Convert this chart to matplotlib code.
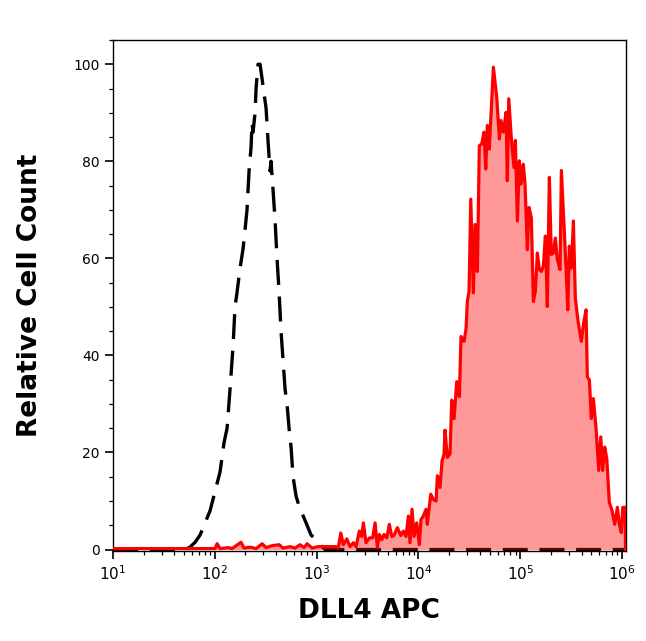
import matplotlib

matplotlib.use("Agg")
import matplotlib.pyplot as plt
import numpy as np
from matplotlib.ticker import LogLocator, MultipleLocator

# values; x given in decades (log10 of intensity)
isotype_decade = [
    1.0, 1.707, 1.756, 1.806, 1.855, 1.904, 1.953, 2.002, 2.051, 2.090,
    2.120, 2.149, 2.179, 2.198, 2.218, 2.248, 2.277, 2.297, 2.316, 2.336,
    2.356, 2.365, 2.375, 2.395, 2.405, 2.424, 2.444, 2.464, 2.483, 2.503,
    2.523, 2.542, 2.552, 2.572, 2.591, 2.611, 2.631, 2.650, 2.670, 2.690,
    2.709, 2.729, 2.749, 2.768, 2.798, 2.827, 2.866, 2.906, 2.945, 2.994,
    3.033, 3.083, 6.04,
]
isotype_count = [
    0, 0, 0.5, 1.5, 3, 5.5, 8, 12, 16, 22,
    25, 33, 42, 50, 53, 58, 62, 66, 70, 78,
    83, 88, 86, 90, 95, 100, 100, 97, 94, 91,
    84, 78, 80, 74, 68, 60, 53, 45, 39, 33,
    30, 25, 21, 15, 11, 9, 7, 5, 3, 2,
    1, 0, 0,
]

dll4_decade = [
    1.0, 2.002, 2.022, 2.051, 2.130, 2.169, 2.257, 2.287, 2.346, 2.405,
    2.464, 2.503, 2.562, 2.631, 2.670, 2.739, 2.788, 2.837, 2.876, 2.906,
    2.955, 3.014, 3.033, 3.181, 3.213, 3.237, 3.262, 3.296, 3.328, 3.361,
    3.387, 3.419, 3.443, 3.459, 3.485, 3.518, 3.551, 3.574, 3.596, 3.616,
    3.639, 3.662, 3.689, 3.714, 3.738, 3.760, 3.793, 3.826, 3.852, 3.878,
    3.901, 3.917, 3.937, 3.957, 3.983, 4.009, 4.025, 4.048, 4.075, 4.087,
    4.121, 4.146, 4.173, 4.186, 4.212, 4.232, 4.251, 4.261, 4.284, 4.310,
    4.327, 4.350, 4.376, 4.402, 4.418, 4.448, 4.468, 4.480, 4.497, 4.514,
    4.539, 4.556, 4.579, 4.598, 4.622, 4.644, 4.661, 4.677, 4.696, 4.736,
    4.769, 4.795, 4.811, 4.834, 4.861, 4.873, 4.887, 4.916, 4.939, 4.952,
    4.972, 4.991, 5.008, 5.030, 5.047, 5.070, 5.086, 5.109, 5.129, 5.148,
    5.168, 5.188, 5.207, 5.227, 5.247, 5.266, 5.286, 5.305, 5.325, 5.345,
    5.364, 5.391, 5.404, 5.430, 5.450, 5.467, 5.482, 5.502, 5.522, 5.541,
    5.568, 5.600, 5.620, 5.646, 5.659, 5.679, 5.698, 5.718, 5.745, 5.771,
    5.791, 5.810, 5.830, 5.850, 5.875, 5.902, 5.928, 5.954, 5.973, 5.993,
    6.007, 6.030, 6.034,
]
dll4_count = [
    0.2, 0.2, 1.2, 0.2, 0.4, 0.2, 1.5, 0.3, 0.5, 0.2,
    1.2, 0.4, 0.8, 1.0, 0.3, 0.6, 0.3, 1.0, 0.4, 1.2,
    0.3, 0.6, 0.6, 0.6, 0.4, 3.4, 1.0, 2.2, 0.6, 1.4,
    0.6, 3.8, 2.7, 5.5, 1.4, 2.4, 2.4, 5.5, 0.5, 3.1,
    2.0, 3.1, 2.4, 5.2, 2.7, 2.9, 4.5, 2.9, 3.8, 2.7,
    6.9, 1.4, 8.3, 2.7, 5.5, 1.0, 6.2, 6.9, 8.3, 5.2,
    11.4, 10.3, 10.0, 15.2, 12.8, 18.3, 19.6, 24.6, 19.0, 19.7,
    30.8, 27.0, 34.6, 31.5, 43.9, 42.9, 45.6, 51.1, 53.2, 72.2,
    52.9, 67.0, 57.3, 83.2, 83.6, 86.0, 78.4, 87.4, 82.5, 99.4,
    93.2, 84.6, 88.4, 86.0, 90.1, 76.0, 92.9, 83.6, 78.7, 84.3,
    67.7, 80.1, 75.3, 79.4, 75.3, 61.8, 70.5, 68.4, 51.1, 53.2,
    61.1, 57.7, 57.3, 58.4, 64.6, 50.1, 76.7, 60.8, 61.1, 64.2,
    59.8, 57.7, 78.1, 67.0, 58.0, 49.4, 62.5, 58.0, 67.7, 51.8,
    47.0, 42.9, 46.3, 49.4, 35.6, 34.9, 27.0, 31.1, 24.9, 16.3,
    23.2, 16.3, 21.1, 18.7, 9.7, 8.0, 5.2, 8.7, 5.2, 3.5,
    8.7, 8.7, 0,
]

x_min_decade = 1.0
x_max_decade = 6.036

iso_x = np.power(10.0, isotype_decade)
dll4_x = np.power(10.0, dll4_decade)

fig = plt.figure(figsize=(6.46, 6.41), dpi=100)
ax = fig.add_axes([0.175, 0.1404, 0.7936, 0.7972])

ax.plot(iso_x, isotype_count, color="black", linewidth=2.4,
        dashes=(7.5, 3.5), zorder=2)
ax.fill_between(dll4_x, dll4_count, 0, color="red", alpha=0.4,
                linewidth=0, zorder=3)
ax.plot(dll4_x, dll4_count, color="red", linewidth=2.3, zorder=4)

ax.set_xscale("log")
ax.set_xlim(10 ** x_min_decade, 10 ** x_max_decade)
ax.set_ylim(-0.3, 105)

ax.xaxis.set_major_locator(LogLocator(base=10, numticks=10))
ax.xaxis.set_minor_locator(LogLocator(base=10, subs=np.arange(2, 10), numticks=20))
ax.yaxis.set_major_locator(MultipleLocator(20))
ax.yaxis.set_minor_locator(MultipleLocator(5))

ax.tick_params(which="major", length=6, width=1.2, labelsize=10, direction="out")
ax.tick_params(which="minor", length=3, width=0.9, direction="out")
ax.tick_params(top=False, right=False, which="both")
ax.tick_params(axis="x", labelsize=11)

for spine in ax.spines.values():
    spine.set_linewidth(1.0)

ax.set_xlabel("DLL4 APC", fontsize=19, fontweight="bold", labelpad=11)
ax.set_ylabel("Relative Cell Count", fontsize=19, fontweight="bold", labelpad=22)

fig.savefig("out.png", dpi=100)
plt.close(fig)
